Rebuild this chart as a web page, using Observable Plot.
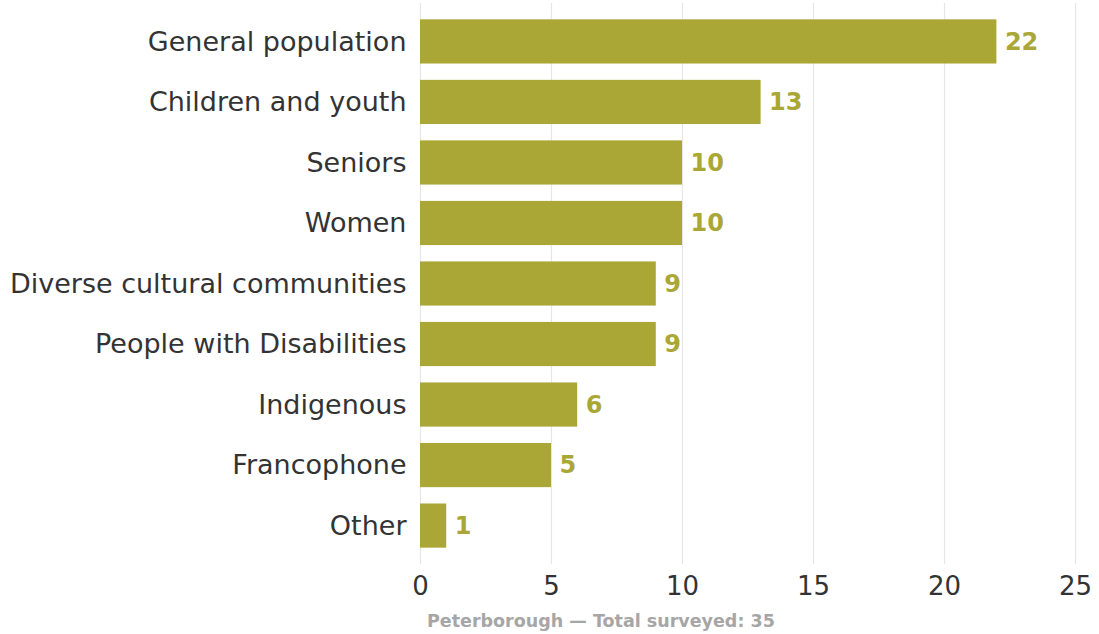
<!DOCTYPE html>
<html>
<head>
<meta charset="utf-8">
<script src="https://cdn.jsdelivr.net/npm/d3@7"></script>
<script src="https://cdn.jsdelivr.net/npm/@observablehq/plot@0.6"></script>
<style>
  body { margin: 0; background: #fff; font-family: "DejaVu Sans", sans-serif; }
  #wrap { position: relative; width: 1099px; height: 634px; }
  #caption { position: absolute; left: 427px; top: 611px; font-size: 17.5px; font-weight: bold; color: #a6a6a6; white-space: nowrap; }
</style>
</head>
<body>
<div id="wrap"><div id="chart"></div><div id="caption">Peterborough — Total surveyed: 35</div></div>
<script>
const categories = ["General population","Children and youth","Seniors","Women","Diverse cultural communities","People with Disabilities","Indigenous","Francophone","Other"];
const counts = [22,13,10,10,9,9,6,5,1];
const xTicks = [0,5,10,15,20,25];
const data = categories.map((c,i) => ({category: c, count: counts[i]}));
const color = "#aba736";
const chart = Plot.plot({
  width: 1099,
  height: 604,
  marginLeft: 420,
  marginRight: 24,
  marginTop: 3,
  marginBottom: 40,
  style: {fontFamily: "DejaVu Sans, sans-serif", fontSize: "26px", color: "#333"},
  x: {domain: [0,25], ticks: xTicks, tickSize: 0, tickPadding: 12, label: null, grid: false},
  y: {domain: categories, padding: 0.27, round: false, tickSize: 0, tickPadding: 14, label: null},
  marks: [
    Plot.ruleX(xTicks, {stroke: "#e6e6e6", strokeWidth: 1.2}),
    Plot.barX(data, {x: "count", y: "category", fill: color}),
    Plot.text(data, {x: "count", y: "category", text: d => String(d.count), textAnchor: "start", dx: 8, fill: color, fontWeight: "bold", fontSize: 24}),
    Plot.axisY({tickSize: 0, tickPadding: 14, fontSize: 27})
  ]
});
document.getElementById("chart").appendChild(chart);
</script>
</body>
</html>
